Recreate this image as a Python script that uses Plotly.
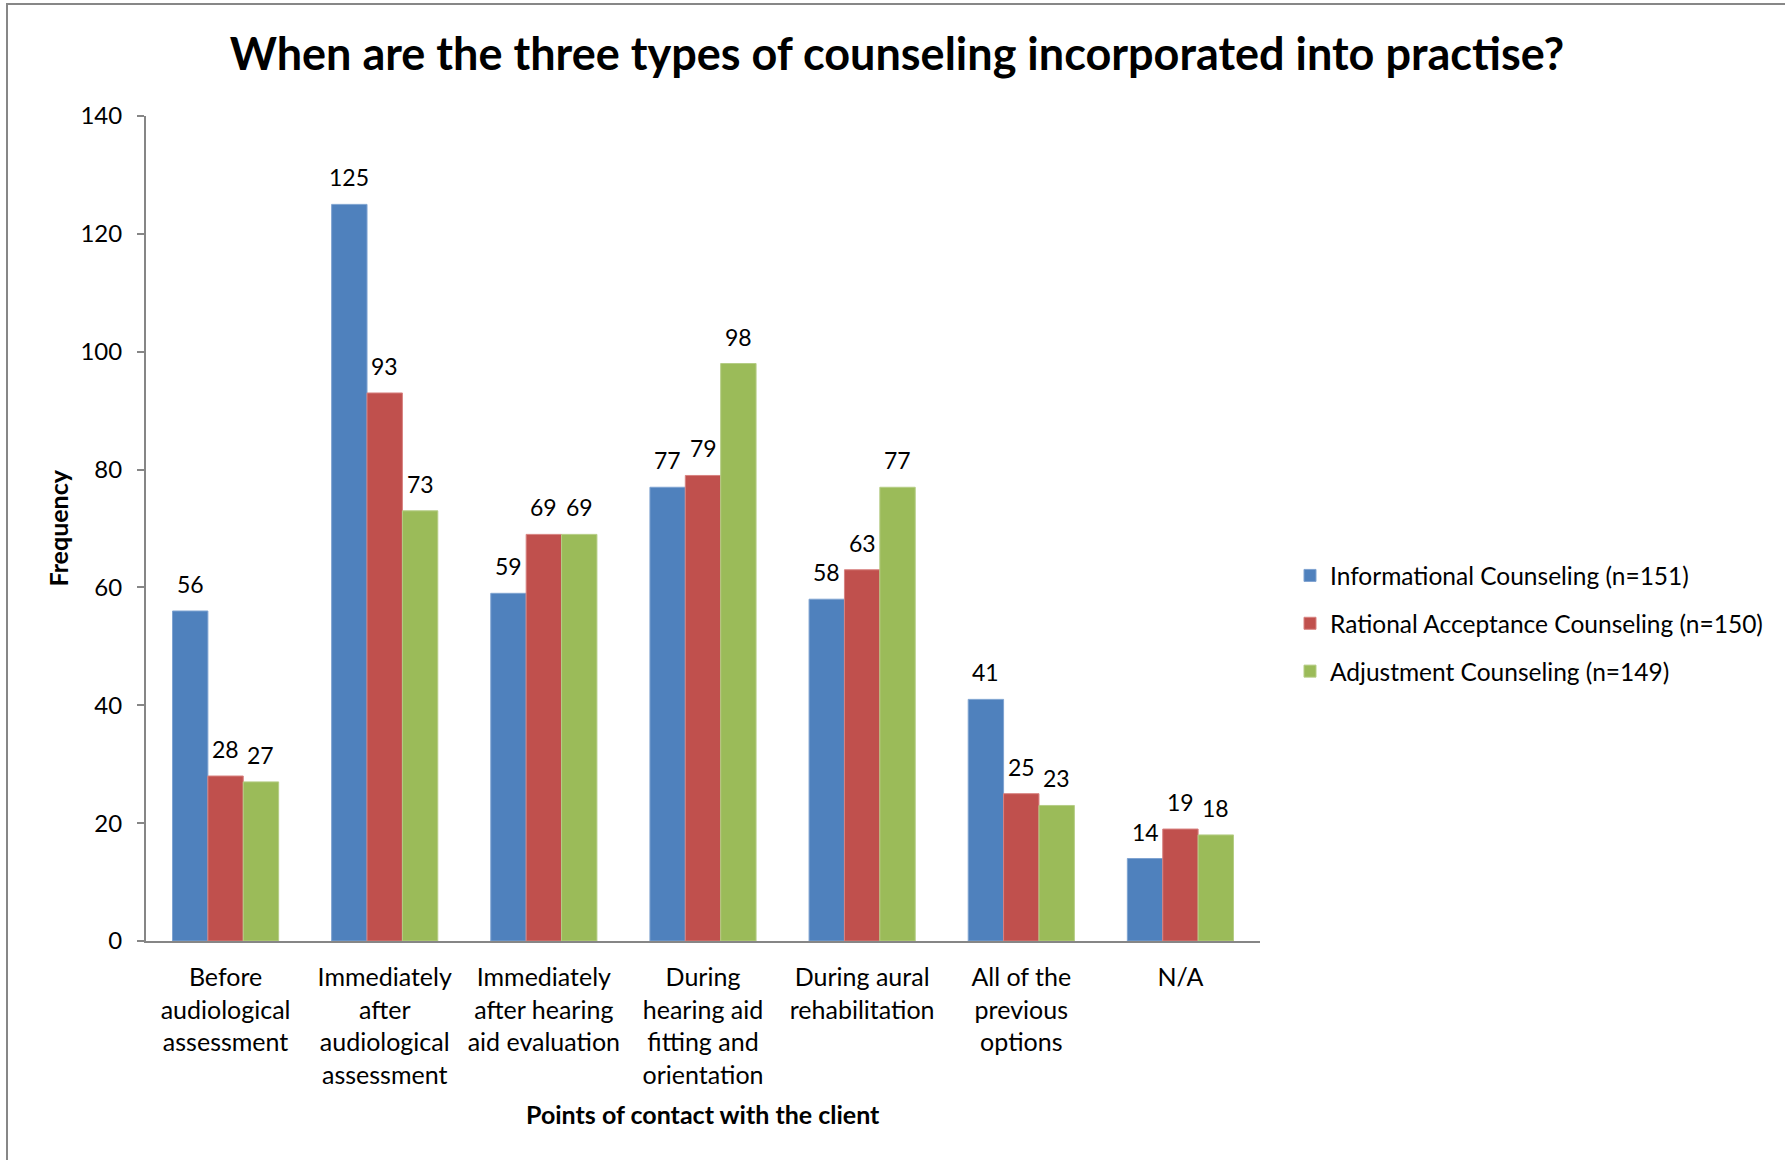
import plotly.graph_objects as go

# Points of contact with the client
categories = [
    "Before audiological assessment",
    "Immediately after audiological assessment",
    "Immediately after hearing aid evaluation",
    "During hearing aid fitting and orientation",
    "During aural rehabilitation",
    "All of the previous options",
    "N/A",
]
tick_labels = [
    "Before<br>audiological<br>assessment",
    "Immediately<br>after<br>audiological<br>assessment",
    "Immediately<br>after hearing<br>aid evaluation",
    "During<br>hearing aid<br>fitting and<br>orientation",
    "During aural<br>rehabilitation",
    "All of the<br>previous<br>options",
    "N/A",
]

series_names = [
    "Informational Counseling (n=151)",
    "Rational Acceptance Counseling (n=150)",
    "Adjustment Counseling (n=149)",
]
informational = [56, 125, 59, 77, 58, 41, 14]
rational_acceptance = [28, 93, 69, 79, 63, 25, 19]
adjustment = [27, 73, 69, 98, 77, 23, 18]

y_ticks = [0, 20, 40, 60, 80, 100, 120, 140]

colors = ["#4F81BD", "#C0504D", "#9BBB59"]
edge_colors = ["#7FA3D1", "#D88280", "#B5CD85"]

FONT = "Lato, 'Open Sans', sans-serif"
W, H = 1785, 1160
# plot area in pixels
L, R, T, B = 146, 1260, 116, 941
BARGAP = 0.333

series_values = [informational, rational_acceptance, adjustment]

fig = go.Figure()
for name, vals, col, edge in zip(series_names, series_values, colors, edge_colors):
    fig.add_trace(go.Bar(
        x=categories, y=vals, name=name,
        marker=dict(color=col, line=dict(color=edge, width=1)),
        legendgroup=name,
    ))


def px_x(px):
    return (px - L) / (R - L)


def px_y(py):
    return (B - py) / (B - T)


# value labels above each bar, shifted sideways to sit over their bar in the group
slot_px = (R - L) / len(categories)
bar_px = slot_px * (1 - BARGAP) / len(series_values)
annotations = []
for i, vals in enumerate(series_values):
    dx = (i - (len(series_values) - 1) / 2) * bar_px
    for cat, v in zip(categories, vals):
        annotations.append(dict(
            x=cat, y=v, xref="x", yref="y", text=str(v), showarrow=False,
            xanchor="center", yanchor="middle", xshift=dx, yshift=27,
            font=dict(family=FONT, size=23, color="#000000"),
        ))

annotations += [
    dict(text="<b>Frequency</b>", textangle=-90,
         xref="paper", yref="paper", x=px_x(57), y=0.5,
         xanchor="center", yanchor="middle", showarrow=False,
         font=dict(family=FONT, size=25, color="#000000")),
    dict(text="<b>Points of contact with the client</b>",
         xref="paper", yref="paper", x=0.5, y=px_y(1114),
         xanchor="center", yanchor="middle", showarrow=False,
         font=dict(family=FONT, size=25, color="#000000")),
]

fig.update_layout(
    width=W, height=H,
    margin=dict(l=L, r=W - R, t=T, b=H - B, pad=0),
    paper_bgcolor="white", plot_bgcolor="white",
    barmode="group", bargap=BARGAP, bargroupgap=0,
    font=dict(family=FONT, size=24, color="#000000"),
    title=dict(
        text="<b>When are the three types of counseling incorporated into practise?</b>",
        x=897 / W, xanchor="center", y=1 - 54 / H, yanchor="middle",
        font=dict(family=FONT, size=45, color="#000000"),
    ),
    showlegend=True,
    legend=dict(
        x=px_x(1290), xanchor="left", y=px_y(553), yanchor="top",
        font=dict(family=FONT, size=24.5, color="#000000"),
        tracegroupgap=13, bgcolor="rgba(0,0,0,0)",
        traceorder="grouped", itemwidth=30,
    ),
    xaxis=dict(
        tickmode="array", tickvals=categories, ticktext=tick_labels,
        showline=True, linecolor="#868686", linewidth=2,
        ticks="", showgrid=False, zeroline=False,
        tickfont=dict(family=FONT, size=25, color="#000000"),
        ticklabelstandoff=13,
    ),
    yaxis=dict(
        range=[0, 140], tickmode="array", tickvals=y_ticks,
        showline=True, linecolor="#868686", linewidth=2,
        ticks="outside", ticklen=7, tickwidth=2, tickcolor="#868686",
        showgrid=False, zeroline=False,
        tickfont=dict(family=FONT, size=24, color="#000000"),
        ticklabelstandoff=10,
    ),
    annotations=annotations,
    shapes=[
        # outer chart frame
        dict(type="rect", xref="paper", yref="paper",
             x0=px_x(7), x1=px_x(1800), y0=px_y(1175), y1=px_y(4),
             line=dict(color="#878787", width=2), fillcolor="rgba(0,0,0,0)",
             layer="below"),
    ],
)

fig.write_html("out.html")
